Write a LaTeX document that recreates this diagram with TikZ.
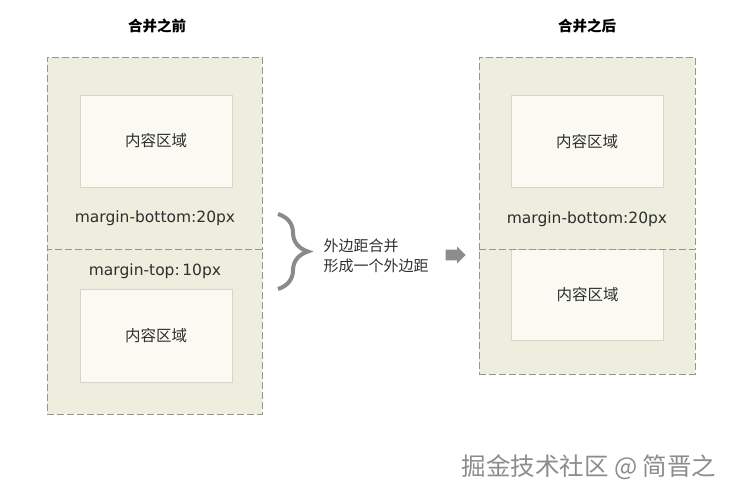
\documentclass[tikz,border=0pt]{standalone}
\usepackage{fontspec}
\setmainfont{DejaVu Sans}
\newfontfamily\cjk{Noto Sans CJK SC}
\usetikzlibrary{shapes.arrows, decorations.pathreplacing, positioning}
\definecolor{marginfill}{HTML}{EEEEDE}
\definecolor{dashgray}{HTML}{96968E}
\definecolor{contentfill}{HTML}{FAFAF2}
\definecolor{contentline}{HTML}{D6D6C6}
\definecolor{textgray}{HTML}{2E2E2E}
\definecolor{bracegray}{HTML}{8A8A8A}
\definecolor{markgray}{HTML}{8C8C8C}

\begin{document}
\begin{tikzpicture}[x=1pt, y=-1pt,
  margin/.style={draw=dashgray, fill=marginfill, dash pattern=on 7pt off 3pt, line width=1pt, minimum width=215pt, inner sep=0pt},
  content/.style={draw=contentline, fill=contentfill, line width=0.8pt, minimum width=152pt, minimum height=92pt, inner sep=0pt, font=\cjk\fontsize{15.5}{18}\selectfont, text=textgray},
  mlabel/.style={font=\fontsize{15.5}{18}\selectfont, text=textgray},
  title/.style={font=\cjk\bfseries\fontsize{14.5}{17}\selectfont, text=black},
  note/.style={font=\cjk\fontsize{15}{20.5}\selectfont, text=textgray, align=left, anchor=west},
  >=stealth
]
\useasboundingbox (0,0) rectangle (736,499);

% before merging
\node[title] (before) at (157,26) {合并之前};
\node[margin, minimum height=192pt] (bup) at (154.5,153) {};
\node[margin, minimum height=165pt] (blow) at (154.5,331.5) {};
\node[content] (bcontent1) at (156,141) {内容区域};
\node[content, minimum height=93pt] (bcontent2) at (156,335.5) {内容区域};
\node[mlabel] (bbottom) at (155,218) {margin-bottom:20px};
\node[mlabel] (btop) at (155,271) {margin-top:\,10px};

% brace and note
\coordinate (brtop) at (278,214);
\coordinate (brbot) at (278,289);
\draw[bracegray, line width=4pt, decorate, decoration={brace, amplitude=30pt}] (brtop) -- (brbot);
\node[note] (merge) at (320,256) {外边距合并\\形成一个外边距};
\node[single arrow, fill=markgray, draw=none, minimum height=20pt, minimum width=17pt, single arrow head extend=3pt, inner sep=5pt] (arrow) at (453,255) {};

% after merging
\node[title] (after) at (587,26) {合并之后};
\node[margin, minimum width=216pt, minimum height=192pt] (aup) at (587,153) {};
\node[margin, minimum width=216pt, minimum height=125pt] (alow) at (587,311.5) {};
\node[content] (acontent1) at (587,141.5) {内容区域};
\node[content, minimum height=91pt] (acontent2) at (587.5,294.5) {内容区域};
\draw[dashgray, dash pattern=on 7pt off 3pt, line width=1pt] (aup.south west) -- (aup.south east);
\node[mlabel] (abottom) at (587,219) {margin-bottom:20px};

% watermark
\node[font=\cjk\fontsize{24.5}{28}\selectfont, text=markgray] (mark) at (589,467) {掘金技术社区 @ 简晋之};
\end{tikzpicture}
\end{document}
